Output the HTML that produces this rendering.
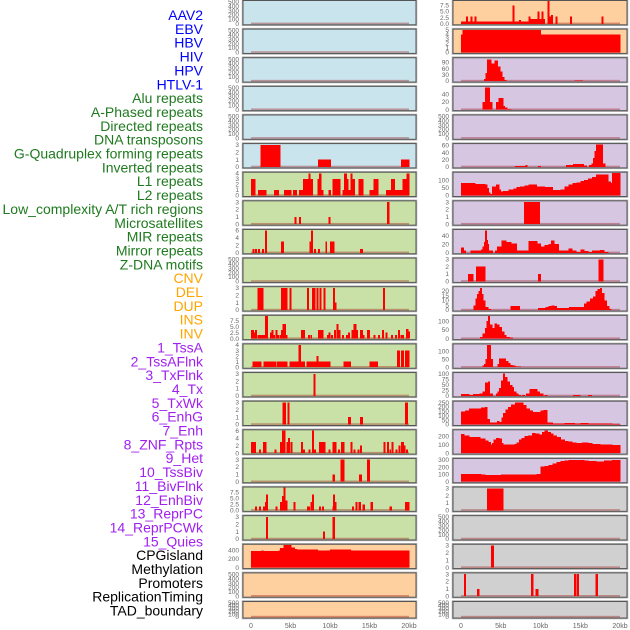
<!DOCTYPE html>
<html><head><meta charset="utf-8"><style>
html,body{margin:0;padding:0;background:#fff;}
svg{display:block;font-family:"Liberation Sans",sans-serif;}
</style></head><body>
<svg id="chart" width="630" height="630" viewBox="0 0 630 630" xmlns="http://www.w3.org/2000/svg"></svg>
<script>
// ---------- data ----------
const trackLabels = ["AAV2","EBV","HBV","HIV","HPV","HTLV-1","Alu repeats","A-Phased repeats","Directed repeats","DNA transposons","G-Quadruplex forming repeats","Inverted repeats","L1 repeats","L2 repeats","Low_complexity A/T rich regions","Microsatellites","MIR repeats","Mirror repeats","Z-DNA motifs","CNV","DEL","DUP","INS","INV","1_TssA","2_TssAFlnk","3_TxFlnk","4_Tx","5_TxWk","6_EnhG","7_Enh","8_ZNF_Rpts","9_Het","10_TssBiv","11_BivFlnk","12_EnhBiv","13_ReprPC","14_ReprPCWk","15_Quies","CPGisland","Methylation","Promoters","ReplicationTiming","TAD_boundary"];
const labelGroups = ["virus","virus","virus","virus","virus","virus","repeat","repeat","repeat","repeat","repeat","repeat","repeat","repeat","repeat","repeat","repeat","repeat","repeat","sv","sv","sv","sv","sv","chrom","chrom","chrom","chrom","chrom","chrom","chrom","chrom","chrom","chrom","chrom","chrom","chrom","chrom","chrom","other","other","other","other","other"];
const xTickValues = [0,5,10,15,20];
const xTickLabels = ["0","5kb","10kb","15kb","20kb"];
const emptyTicks = [0,100,200,300,400,500];
const ticks3 = [0,1,2,3];

// segments: [startKb, endKb, value]
const L6 = [[1.2,3.7,3],[8.5,10.1,1],[19,20,1]];
const L7 = [[0,0.5,3],[0.9,1.9,1],[2.9,3.5,1],[4.2,5.1,1],[5.3,5.8,1],[6.1,6.6,1],[6.6,7.3,3],[7.3,7.5,4],[7.5,7.8,3],[8.4,8.8,3],[8.6,8.9,4],[8.9,9.1,1],[9.8,10.1,1],[10.3,11.3,3],[11.6,11.8,1],[11.8,12.1,4],[12.1,12.3,3],[12.3,12.6,1],[12.6,12.8,4],[12.8,13.1,3],[13.6,14.2,3],[15,15.5,1],[15.5,16.1,3],[17.1,17.7,1],[17.7,18.2,3],[18.2,19.2,1],[19.2,19.7,3],[19.7,20,4]];
const L8 = [[5.5,5.7,1],[6.1,6.3,1],[9.8,10,1],[17.2,17.5,3]];
const L9 = [[0.2,0.4,1],[0.5,0.7,1],[0.9,1.1,1],[1.4,1.6,1],[1.8,2.0,6],[3.8,4.1,3],[7.4,7.6,3],[7.6,7.8,6],[8.0,8.2,1],[8.5,8.7,1],[9.4,9.6,3],[10.0,10.5,3],[13.8,14.1,1]];
const L11 = [[0.8,1.5,3],[3.8,4.6,3],[4.9,5.1,3],[7.1,7.3,3],[7.7,8.1,3],[8.3,8.5,3],[8.7,8.9,3],[9.2,9.4,3],[10.4,10.6,3],[10.6,10.8,1],[16.7,16.9,3]];
const L12 = [[0,0.3,3.5],[0.3,0.5,2.5],[0.5,0.7,3.5],[0.8,1.0,1.5],[1.1,1.3,1.5],[1.3,1.5,1.5],[1.6,1.8,1.5],[1.8,2.1,9.5],[2.4,2.6,2.5],[2.6,2.8,3.5],[2.8,3.0,1.5],[3.1,3.3,3.5],[3.3,3.5,1.5],[3.6,3.8,1.5],[3.8,4.0,3.5],[4.0,4.4,6],[4.3,4.6,1.5],[6.3,6.8,3.5],[7.2,7.4,1.5],[7.5,7.7,1.5],[8.5,9.1,3.5],[9.6,9.8,1.5],[9.8,10.0,2.5],[10.1,10.3,1.5],[10.5,10.7,3.5],[10.8,11.0,6],[11.1,11.3,3.5],[11.5,11.7,1.5],[12.0,12.2,1.5],[12.3,12.5,2.5],[12.7,12.9,3.5],[13.0,13.3,6],[13.3,13.5,3.5],[13.8,14.1,3.5],[14.1,14.3,1.5],[14.7,15.0,3.5],[15.5,15.7,1.5],[16.1,16.3,1.5],[16.6,16.8,3.5],[17.0,17.2,2.5],[17.7,17.9,1.5],[18.2,18.4,1.5],[18.6,18.8,3.5],[18.9,19.1,1.5],[19.1,19.3,1.5],[19.6,19.9,4],[19.9,20,3]];
const L13 = [[0.2,1.3,1],[1.6,3.2,1],[3.3,4.6,1],[4.9,6.0,1],[6.0,6.3,4],[6.3,6.8,1],[7.0,8.4,1],[8.3,8.5,2],[8.5,10.0,1],[11.7,12.6,1],[15.0,16.0,1],[18.5,18.8,3],[19.0,19.3,3],[19.5,20,3]];
const L14 = [[7.9,8.1,3]];
const L15 = [[4.0,4.4,3],[4.6,4.8,3],[12.3,12.6,1],[13.8,14.1,1],[19.5,19.8,3]];
const L16 = [[0,0.6,3],[1.0,1.2,1],[1.5,1.7,3],[1.7,1.9,3],[3.0,3.2,1],[3.7,3.9,3],[3.9,4.3,6],[4.5,4.7,3],[4.7,4.9,4],[5.0,5.2,3],[6.3,6.5,3],[6.6,6.8,1],[7.3,7.5,1],[7.7,7.9,6],[8.0,8.2,1],[8.6,9.4,3],[9.8,10.0,1],[10.3,10.8,3],[11.0,11.2,1],[11.4,11.8,3],[12.6,12.8,3],[13.0,13.2,1],[13.5,13.7,1],[13.8,14.0,2],[16.8,17.0,3],[17.2,17.4,3],[17.5,17.7,1],[17.8,18.0,3],[18.3,18.5,1],[18.7,18.9,2],[19.0,19.3,3],[19.3,19.5,2],[19.6,19.8,1]];
const L17 = [[10.3,10.6,1],[11.3,11.8,3],[13.7,14.0,1],[14.7,15.0,3]];
const L18 = [[0.5,0.7,1.5],[1.0,1.2,1.5],[1.5,1.7,1.5],[1.8,1.9,3.5],[1.9,2.1,6.5],[3.1,3.3,1.5],[3.7,3.9,3.5],[3.9,4.1,6],[4.1,4.3,9.5],[4.3,4.6,4],[5.4,5.6,3.5],[7.1,7.4,1.5],[7.5,7.7,3.5],[7.7,7.9,6.5],[8.6,8.8,1.5],[9.0,9.2,1.5],[10.3,10.4,1.5],[10.4,10.6,6.5],[10.6,10.8,3.5],[12.8,13.0,1.5],[13.2,13.4,3.5],[13.6,13.9,3.5],[14.1,14.4,2.5],[15.1,15.4,3.5],[17.5,17.8,1.5],[19.5,20,3.5]];
const L19 = [[1.9,2.1,3],[9.1,9.3,1],[10.3,10.6,3]];
// step series: [startKb, value] ... last [endKb, 0]
const L20 = [[0,390],[1.3,400],[1.5,390],[3.5,400],[3.7,450],[4.1,520],[5.1,470],[5.5,430],[5.8,420],[8.4,400],[10,420],[12.6,400],[20,0]];

const R1 = [[0,8.6,1],[8.6,10.5,2],[0.6,0.8,3],[1.2,1.4,3],[1.7,1.9,3],[6.5,6.7,7.5],[7.3,7.5,1.5],[8.5,8.7,3],[9.6,9.8,5],[10.1,10.3,5],[10.9,11.1,9.3],[11.1,11.3,3],[11.3,11.5,3.5],[11.9,12.1,3],[13.7,13.9,3],[17.7,17.9,3]];
const R2 = [[0,0.2,4],[0.2,10,5],[10,20,4]];
const R3 = [[2.9,10],[3.1,40],[3.3,105],[3.8,85],[4.2,100],[4.6,70],[4.9,45],[5.2,20],[5.4,5],[5.7,0],[14.3,3],[15.3,0]];
const R4 = [[2.7,20],[3.0,58],[3.6,20],[3.9,0],[4.4,20],[4.7,30],[5.3,10],[5.5,5],[5.8,2],[6.3,0]];
const R6 = [[6.8,3],[8.1,5],[8.3,0],[9.7,3],[10.0,0],[13.2,5],[14.1,8],[15.4,4],[15.8,0],[16.1,5],[16.4,10],[16.6,25],[16.8,45],[17.0,63],[17.8,10],[18.1,0]];
const R7 = [[0,80],[1.8,75],[3.0,70],[3.3,50],[3.5,20],[3.6,10],[3.9,60],[4.4,70],[4.8,40],[5.0,25],[5.3,30],[6.0,40],[6.6,45],[7.0,55],[7.4,60],[8.0,65],[8.5,70],[9.5,60],[10.5,55],[11.5,35],[12.5,40],[13.0,60],[13.5,70],[14.0,80],[14.5,85],[15.0,95],[15.5,100],[16.0,110],[16.5,120],[17.0,135],[18.5,90],[18.8,80],[19.0,145],[20,0]];
const R8 = [[7.9,9.9,3]];
const R9 = [[0,12],[0.3,5],[0.6,0],[1.2,5],[2.5,8],[2.7,15],[2.9,25],[3.0,52],[3.2,30],[3.3,20],[3.5,5],[4.0,0],[4.3,5],[4.5,15],[5.1,28],[5.7,25],[6.3,22],[7.0,5],[8.0,5],[8.5,27],[9.6,22],[10.0,15],[10.5,18],[11.0,20],[11.3,28],[11.7,20],[12.3,5],[13.5,10],[14.0,5],[14.5,2],[15.0,8],[15.5,4],[16.0,2],[16.5,5],[17.5,7],[18.0,2],[18.5,0]];
const R10 = [[0.9,1.5,1],[1.9,3.0,2],[9.7,10.0,1],[17.3,17.9,3]];
const R11 = [[1.6,5],[1.8,12],[2.0,17],[2.2,20],[2.4,23],[2.6,17],[2.8,10],[3.0,3],[3.4,1],[3.7,0],[6.2,4],[7.4,0],[9.7,2],[10.6,3],[11.0,4],[11.4,5],[11.7,4],[12.0,2],[13.6,3],[14.8,3],[15.5,7],[15.8,9],[16.2,12],[16.6,14],[16.9,20],[17.2,22],[17.5,23],[17.7,18],[18.0,10],[18.3,4],[18.6,1],[18.9,0]];
const R12 = [[2.4,10],[2.7,30],[3.0,60],[3.2,100],[3.4,128],[3.6,80],[3.9,60],[4.2,85],[4.5,80],[4.8,65],[5.1,40],[5.4,20],[5.7,10],[6.1,5],[6.5,0]];
const R13 = [[2.7,10],[2.9,20],[3.1,50],[3.3,140],[3.7,50],[4.0,0],[4.6,20],[4.8,55],[5.6,40],[5.9,25],[6.2,15],[6.5,10],[6.8,5],[7.5,0]];
const R14 = [[0,8],[1.0,5],[1.5,8],[2.3,10],[2.7,20],[3.0,60],[3.4,65],[3.6,10],[4.0,0],[4.4,10],[4.6,20],[4.8,35],[5.0,70],[5.3,100],[5.5,85],[5.8,65],[6.1,50],[6.4,40],[6.6,20],[6.9,10],[7.2,5],[7.5,0],[7.7,5],[8.0,0],[8.2,10],[8.6,30],[9.6,20],[9.9,10],[10.3,0],[10.5,5],[10.8,0],[14.1,5],[15.0,0],[16.0,5],[16.4,0]];
const R15 = [[0,150],[0.5,160],[1.0,180],[2.0,185],[2.5,195],[3.0,200],[3.3,60],[3.6,20],[4.0,25],[4.5,40],[4.8,30],[5.1,80],[5.3,130],[5.6,170],[5.9,200],[6.3,230],[6.8,250],[7.8,220],[8.2,180],[8.6,160],[9.0,140],[10.0,160],[10.4,165],[10.8,20],[11.5,10],[13.0,15],[14.3,10],[15.0,15],[16.0,10],[19.0,5],[20,0]];
const R16 = [[0,225],[0.4,210],[1.0,190],[2.4,170],[3.0,150],[3.4,130],[3.7,100],[3.9,120],[4.1,160],[4.4,180],[4.8,170],[5.1,120],[5.3,100],[6.7,110],[7.0,125],[7.3,160],[7.6,180],[8.0,200],[8.4,210],[8.9,240],[9.3,235],[9.8,220],[10.2,250],[10.5,265],[10.9,250],[11.3,235],[11.6,210],[12.0,190],[12.5,160],[13.0,145],[13.5,135],[14.0,125],[14.5,120],[15.2,125],[16.0,120],[16.5,105],[17.5,100],[19.0,95],[20,0]];
const R17 = [[0,110],[2.5,100],[3.0,90],[4.5,95],[5.0,100],[9.5,110],[10.0,210],[10.5,220],[11.0,230],[11.5,250],[12.0,270],[12.5,285],[13.0,295],[13.5,300],[15.5,290],[16.0,285],[17.0,280],[18.0,290],[19.0,300],[20,0]];
const R18 = [[3.3,5.3,3]];
const R20 = [[3.8,4.1,3]];
const R21 = [[0.4,0.6,3],[2.0,2.3,1],[8.8,9.1,3],[9.4,9.7,1],[14.2,14.4,3],[14.5,14.8,3],[16.9,17.2,3]];

// ---------- layout ----------
const svg = document.getElementById('chart');
const NS = 'http://www.w3.org/2000/svg';
function mk(tag, attrs, parent){
  const e = document.createElementNS(NS, tag);
  for (const k in attrs) e.setAttribute(k, attrs[k]);
  (parent||svg).appendChild(e);
  return e;
}
const groupColor = {virus:'#0000ff', repeat:'#1f7a1f', sv:'#ffa500', chrom:'#a020f0', other:'#000000'};
const BG = {blue:'#c9e4ec', green:'#c9e1a7', orange:'#fecf9f', purple:'#d6c6e2', gray:'#d0d0d0'};
const cols = [{x0:243, x1:416, k0:251, k1:409, tx:239},{x0:453, x1:627, k0:461, k1:620, tx:449}];

// labels
trackLabels.forEach((t,i)=>{
  const el = mk('text',{x:203, y:(20+i*13.85).toFixed(1), 'text-anchor':'end','font-size':'14', fill:groupColor[labelGroups[i]]});
  
  
  el.textContent = t;
});

function stepsToSegs(st){
  const out=[];
  for(let i=0;i<st.length-1;i++){ if(st[i][1]>0) out.push([st[i][0], st[i+1][0], st[i][1]]); }
  return out;
}

const panels = [
 {c:0,r:0,bg:'blue',ymax:520,ticks:emptyTicks,d:null},
 {c:0,r:1,bg:'blue',ymax:520,ticks:emptyTicks,d:null},
 {c:0,r:2,bg:'blue',ymax:520,ticks:emptyTicks,d:null},
 {c:0,r:3,bg:'blue',ymax:520,ticks:emptyTicks,d:null},
 {c:0,r:4,bg:'blue',ymax:520,ticks:emptyTicks,d:null},
 {c:0,r:5,bg:'blue',ymax:3.1,ticks:ticks3,d:L6},
 {c:0,r:6,bg:'green',ymax:4.1,ticks:[0,1,2,3,4],d:L7},
 {c:0,r:7,bg:'green',ymax:3.1,ticks:ticks3,d:L8},
 {c:0,r:8,bg:'green',ymax:6.1,ticks:[0,2,4,6],d:L9},
 {c:0,r:9,bg:'green',ymax:520,ticks:emptyTicks,d:null},
 {c:0,r:10,bg:'green',ymax:3.1,ticks:ticks3,d:L11},
 {c:0,r:11,bg:'green',ymax:9.5,ticks:[0,2.5,5,7.5],d:L12,fmt:1},
 {c:0,r:12,bg:'green',ymax:4.1,ticks:[0,1,2,3,4],d:L13},
 {c:0,r:13,bg:'green',ymax:3.1,ticks:ticks3,d:L14},
 {c:0,r:14,bg:'green',ymax:3.1,ticks:ticks3,d:L15},
 {c:0,r:15,bg:'green',ymax:6.1,ticks:[0,2,4,6],d:L16},
 {c:0,r:16,bg:'green',ymax:3.1,ticks:ticks3,d:L17},
 {c:0,r:17,bg:'green',ymax:9.5,ticks:[0,2.5,5,7.5],d:L18,fmt:1},
 {c:0,r:18,bg:'green',ymax:3.1,ticks:ticks3,d:L19},
 {c:0,r:19,bg:'orange',ymax:530,ticks:[0,200,400],d:L20,step:1},
 {c:0,r:20,bg:'orange',ymax:520,ticks:emptyTicks,d:null},
 {c:0,r:21,bg:'orange',ymax:520,ticks:emptyTicks,d:null},
 {c:1,r:0,bg:'orange',ymax:9.3,ticks:[0,2.5,5,7.5],d:R1,fmt:1},
 {c:1,r:1,bg:'orange',ymax:5.05,ticks:[0,1,2,3,4,5],d:R2},
 {c:1,r:2,bg:'purple',ymax:110,ticks:[0,30,60,90],d:R3,step:1},
 {c:1,r:3,bg:'purple',ymax:59,ticks:[0,20,40],d:R4,step:1},
 {c:1,r:4,bg:'purple',ymax:520,ticks:emptyTicks,d:null},
 {c:1,r:5,bg:'purple',ymax:64,ticks:[0,20,40,60],d:R6,step:1},
 {c:1,r:6,bg:'purple',ymax:148,ticks:[0,50,100],d:R7,step:1},
 {c:1,r:7,bg:'purple',ymax:3.1,ticks:ticks3,d:R8},
 {c:1,r:8,bg:'purple',ymax:53,ticks:[0,20,40],d:R9,step:1},
 {c:1,r:9,bg:'purple',ymax:3.1,ticks:ticks3,d:R10},
 {c:1,r:10,bg:'purple',ymax:24,ticks:[0,5,10,15,20],d:R11,step:1},
 {c:1,r:11,bg:'purple',ymax:130,ticks:[0,50,100],d:R12,step:1},
 {c:1,r:12,bg:'purple',ymax:142,ticks:[0,50,100],d:R13,step:1},
 {c:1,r:13,bg:'purple',ymax:103,ticks:[0,25,50,75,100],d:R14,step:1},
 {c:1,r:14,bg:'purple',ymax:260,ticks:[0,50,100,150,200,250],d:R15,step:1},
 {c:1,r:15,bg:'purple',ymax:270,ticks:[0,100,200],d:R16,step:1},
 {c:1,r:16,bg:'purple',ymax:315,ticks:[0,100,200,300],d:R17,step:1},
 {c:1,r:17,bg:'gray',ymax:3.1,ticks:ticks3,d:R18},
 {c:1,r:18,bg:'gray',ymax:520,ticks:emptyTicks,d:null},
 {c:1,r:19,bg:'gray',ymax:3.1,ticks:ticks3,d:R20},
 {c:1,r:20,bg:'gray',ymax:3.1,ticks:ticks3,d:R21},
 {c:1,r:21,bg:'gray',ymax:520,ticks:emptyTicks,d:null}
];

panels.forEach(p=>{
  const col = cols[p.c];
  const top = p.r*28.62 + 0.5;
  const h = p.r===21 ? 16.5 : 24.3;
  const bottom = top + h;
  const y0 = bottom - 1;
  const ys = v => y0 - (v/p.ymax)*(h-1.5);
  const xs = k => col.k0 + (k/20)*(col.k1-col.k0);
  const g = mk('g',{});
  
  
  mk('rect',{x:col.x0-0.5,y:top-0.5,width:col.x1-col.x0+1,height:h+1,fill:'none',stroke:'#b0b0b0','stroke-width':1.5},g);
  const bgRect = mk('rect',{x:col.x0,y:top,width:col.x1-col.x0,height:h,fill:BG[p.bg]},g);
  
  
  mk('rect',{x:col.k0,y:y0-1.2,width:col.k1-col.k0,height:1.6,fill:'rgba(150,0,0,0.35)'},g);
  if(p.d){
    const segs = p.step ? stepsToSegs(p.d) : p.d;
    segs.forEach(s=>{
      const yt = Math.max(top+0.5, ys(s[2]));
      const bar = mk('rect',{x:xs(s[0]).toFixed(2),y:yt.toFixed(2),width:(Math.max(1.2,xs(s[1])-xs(s[0]))+0.4).toFixed(2),height:(y0-yt).toFixed(2),fill:'#ff0000','shape-rendering':'crispEdges'},g);
      
      
    });
  }
  mk('rect',{x:col.x0,y:top,width:col.x1-col.x0,height:h,fill:'none',stroke:'#555','stroke-width':1},g);
  p.ticks.forEach(t=>{
    const tl = mk('text',{x:col.tx,y:(ys(t)+2.2).toFixed(2),'text-anchor':'end','font-size':'6.5',fill:'#666'},g);
    
    
    tl.textContent = p.fmt ? t.toFixed(1) : String(t);
  });
});

// x axes
cols.forEach(col=>{
  xTickValues.forEach((v,i)=>{
    const t = mk('text',{x:(col.k0+(v/20)*(col.k1-col.k0)).toFixed(1),y:628,'text-anchor':'middle','font-size':'7',fill:'#666'});
    
    
    t.textContent = xTickLabels[i];
  });
});
</script>
</body></html>
